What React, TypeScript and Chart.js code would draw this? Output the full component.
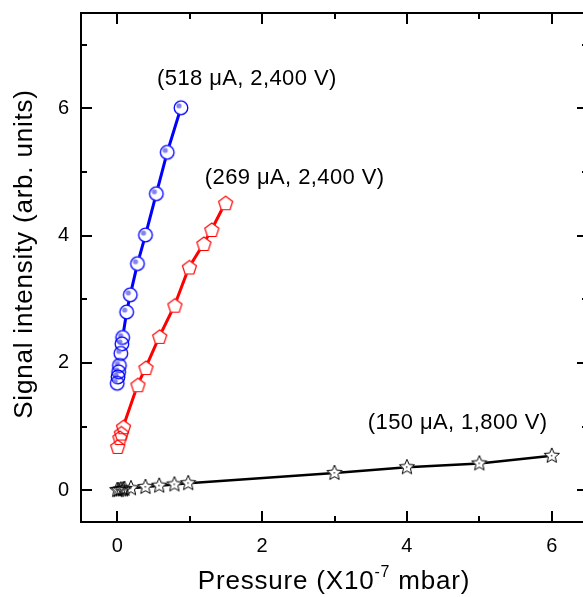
import React, { useEffect, useRef } from "react";
import { Chart, registerables } from "chart.js";

Chart.register(...registerables);

// ---- data ----
const blueX = [0.88, 0.69, 0.54, 0.39, 0.28, 0.18, 0.13, 0.075, 0.065, 0.05, 0.03, 0.02, 0.01, 0.0];
const blueY = [6.01, 5.31, 4.66, 4.01, 3.56, 3.07, 2.8, 2.4, 2.3, 2.15, 1.96, 1.86, 1.78, 1.68];

const redX = [1.49, 1.3, 1.19, 0.99, 0.79, 0.58, 0.39, 0.28, 0.08, 0.05, 0.03, 0.0];
const redY = [4.51, 4.09, 3.87, 3.5, 2.9, 2.41, 1.92, 1.65, 0.99, 0.89, 0.82, 0.68];

const blackX = [0, 0.02, 0.05, 0.08, 0.1, 0.19, 0.39, 0.58, 0.79, 0.98, 3, 4, 5, 6];
const blackY = [0, 0, 0.01, 0.01, 0.02, 0.03, 0.05, 0.07, 0.09, 0.11, 0.27, 0.36, 0.42, 0.54];

const xMajor = [0, 2, 4, 6];
const xMinor = [1, 3, 5];
const yMajor = [0, 2, 4, 6];
const yMinor = [1, 3, 5, 7];

const labelBlue = "(518 \u03bcA, 2,400 V)";
const labelRed = "(269 \u03bcA, 2,400 V)";
const labelBlack = "(150 \u03bcA, 1,800 V)";
const labelPos = [
  { text: labelBlue, x: 1.79, y: 6.47 },
  { text: labelRed, x: 2.45, y: 4.91 },
  { text: labelBlack, x: 4.7, y: 1.05 },
];
const yTitle = "Signal intensity (arb. units)";
const xTitleMain = "Pressure (X10";
const xTitleSup = "-7";
const xTitleEnd = " mbar)";

const FONT = '"Liberation Sans", Arial, Helvetica, sans-serif';

function makeCanvas(size: number, draw: (c: CanvasRenderingContext2D, m: number) => void) {
  const cv = document.createElement("canvas");
  cv.width = size;
  cv.height = size;
  const c = cv.getContext("2d")!;
  draw(c, size / 2);
  return cv;
}

function pentagonPath(c: CanvasRenderingContext2D, m: number, r: number) {
  c.beginPath();
  for (let i = 0; i < 5; i++) {
    const a = -Math.PI / 2 + (i * 2 * Math.PI) / 5;
    const px = m + r * Math.cos(a);
    const py = m + r * Math.sin(a);
    if (i === 0) c.moveTo(px, py);
    else c.lineTo(px, py);
  }
  c.closePath();
}

function starPath(c: CanvasRenderingContext2D, m: number, ro: number, ri: number) {
  c.beginPath();
  for (let i = 0; i < 10; i++) {
    const a = -Math.PI / 2 + (i * Math.PI) / 5;
    const r = i % 2 === 0 ? ro : ri;
    const px = m + r * Math.cos(a);
    const py = m + r * Math.sin(a);
    if (i === 0) c.moveTo(px, py);
    else c.lineTo(px, py);
  }
  c.closePath();
}

export default function App() {
  const ref = useRef<HTMLCanvasElement | null>(null);

  useEffect(() => {
    if (!ref.current) return;

    const circleMask = makeCanvas(18, (c, m) => {
      c.fillStyle = "#fff";
      c.beginPath();
      c.arc(m, m, 7, 0, Math.PI * 2);
      c.fill();
    });
    const circleMark = makeCanvas(18, (c, m) => {
      c.strokeStyle = "#0000ff";
      c.lineWidth = 1.3;
      c.beginPath();
      c.arc(m, m, 6.8, 0, Math.PI * 2);
      c.stroke();
      c.fillStyle = "rgba(110,110,235,0.85)";
      c.beginPath();
      c.arc(m - 2, m - 2, 2.6, 0, Math.PI * 2);
      c.fill();
    });
    const pentMask = makeCanvas(20, (c, m) => {
      c.fillStyle = "#fff";
      pentagonPath(c, m + 0.5, 7.6);
      c.fill();
    });
    const pentMark = makeCanvas(20, (c, m) => {
      c.strokeStyle = "#ff0000";
      c.lineWidth = 1.2;
      pentagonPath(c, m + 0.5, 7.4);
      c.stroke();
    });
    const starMask = makeCanvas(20, (c, m) => {
      c.fillStyle = "#fff";
      starPath(c, m, 8.2, 3.8);
      c.fill();
    });
    const starMark = makeCanvas(20, (c, m) => {
      c.strokeStyle = "#000";
      c.lineWidth = 1;
      starPath(c, m, 8, 3.6);
      c.stroke();
      c.fillStyle = "#444";
      c.fillRect(m - 1, m - 1, 1.5, 1.5);
    });

    const pts = (xs: number[], ys: number[]) => xs.map((x, i) => ({ x, y: ys[i] }));

    const lineDs = (data: any, color: string, width: number, mask: any) => ({
      data,
      borderColor: color,
      borderWidth: width,
      showLine: true,
      tension: 0,
      pointStyle: mask,
      pointRadius: 8,
      pointHoverRadius: 8,
      order: 2,
      fill: false,
    });
    const markDs = (data: any, mark: any) => ({
      data,
      showLine: false,
      pointStyle: mark,
      pointRadius: 8,
      pointHoverRadius: 8,
      order: 1,
    });

    const bluePts = pts(blueX, blueY);
    const redPts = pts(redX, redY);
    const blackPts = pts(blackX, blackY);

    const decor = {
      id: "decor",
      afterDraw(chart: any) {
        const { ctx, chartArea: a, scales } = chart;
        const xs = scales.x;
        const ys = scales.y;
        ctx.save();
        ctx.strokeStyle = "#000";
        ctx.lineWidth = 2;
        ctx.strokeRect(a.left, a.top, a.right - a.left, a.bottom - a.top);
        ctx.lineWidth = 2;
        const drawX = (vals: number[], len: number) => {
          vals.forEach((v) => {
            const p = Math.round(xs.getPixelForValue(v));
            ctx.beginPath();
            ctx.moveTo(p, a.bottom);
            ctx.lineTo(p, a.bottom - len);
            ctx.moveTo(p, a.top);
            ctx.lineTo(p, a.top + len);
            ctx.stroke();
          });
        };
        const drawY = (vals: number[], len: number) => {
          vals.forEach((v) => {
            const p = Math.round(ys.getPixelForValue(v));
            ctx.beginPath();
            ctx.moveTo(a.left, p);
            ctx.lineTo(a.left + len, p);
            ctx.moveTo(a.right, p);
            ctx.lineTo(a.right - len, p);
            ctx.stroke();
          });
        };
        drawX(xMajor, 11);
        drawX(xMinor, 6);
        drawY(yMajor, 11);
        drawY(yMinor, 6);

        // annotations
        ctx.fillStyle = "#000";
        ctx.font = `22px ${FONT}`;
        (ctx as any).letterSpacing = "0.4px";
        ctx.textAlign = "center";
        ctx.textBaseline = "middle";
        labelPos.forEach((l) => {
          ctx.fillText(l.text, xs.getPixelForValue(l.x), ys.getPixelForValue(l.y));
        });

        // x title
        (ctx as any).letterSpacing = "0.8px";
        ctx.textBaseline = "alphabetic";
        ctx.textAlign = "left";
        ctx.font = `26px ${FONT}`;
        const w1 = ctx.measureText(xTitleMain).width;
        const w3 = ctx.measureText(xTitleEnd).width;
        ctx.font = `16px ${FONT}`;
        const w2 = ctx.measureText(xTitleSup).width;
        const total = w1 + w2 + w3;
        const cx = 334;
        let sx = cx - total / 2;
        const by = 589;
        ctx.font = `26px ${FONT}`;
        ctx.fillText(xTitleMain, sx, by);
        sx += w1;
        ctx.font = `16px ${FONT}`;
        ctx.fillText(xTitleSup, sx, by - 12);
        sx += w2;
        ctx.font = `26px ${FONT}`;
        ctx.fillText(xTitleEnd, sx, by);

        // y title
        ctx.save();
        ctx.translate(32, 254);
        ctx.rotate(-Math.PI / 2);
        ctx.textAlign = "center";
        ctx.textBaseline = "alphabetic";
        ctx.font = `26px ${FONT}`;
        ctx.fillText(yTitle, 0, 0);
        ctx.restore();

        ctx.restore();
      },
    };

    const chart = new Chart(ref.current, {
      type: "scatter",
      data: {
        datasets: [
          lineDs(bluePts, "#0000ff", 3, circleMask),
          lineDs(redPts, "#ff0000", 3, pentMask),
          lineDs(blackPts, "#000000", 2.6, starMask),
          markDs(bluePts, circleMark),
          markDs(redPts, pentMark),
          markDs(blackPts, starMark),
        ] as any,
      },
      options: {
        animation: false,
        responsive: false,
        events: [],
        layout: { padding: { left: 0, top: 13, right: 12, bottom: 0 } },
        plugins: { legend: { display: false }, tooltip: { enabled: false } },
        scales: {
          x: {
            type: "linear",
            min: -0.5,
            max: 6.5,
            grid: { display: false, drawTicks: false },
            border: { display: false },
            afterFit: (s: any) => {
              s.height = 75;
              s.paddingLeft = 0;
              s.paddingRight = 0;
              s.paddingTop = 0;
              s.paddingBottom = 0;
            },
            afterBuildTicks: (s: any) => {
              s.ticks = xMajor.map((v) => ({ value: v }));
            },
            ticks: {
              color: "#000",
              font: { family: FONT, size: 20 },
              padding: 12,
              maxRotation: 0,
              callback: (v: any) => String(v),
            },
          },
          y: {
            type: "linear",
            min: -0.5,
            max: 7.5,
            grid: { display: false, drawTicks: false },
            border: { display: false },
            afterFit: (s: any) => {
              s.width = 81;
              s.paddingLeft = 0;
              s.paddingRight = 0;
              s.paddingTop = 0;
              s.paddingBottom = 0;
            },
            afterBuildTicks: (s: any) => {
              s.ticks = yMajor.map((v) => ({ value: v }));
            },
            ticks: {
              color: "#000",
              font: { family: FONT, size: 20 },
              padding: 12,
              callback: (v: any) => String(v),
            },
          },
        },
      } as any,
      plugins: [decor],
    });

    return () => chart.destroy();
  }, []);

  return (
    <div style={{ position: "fixed", left: 0, top: 0, width: 600, height: 597, background: "#fff" }}>
      <canvas ref={ref} width={600} height={597} style={{ display: "block" }} />
    </div>
  );
}
